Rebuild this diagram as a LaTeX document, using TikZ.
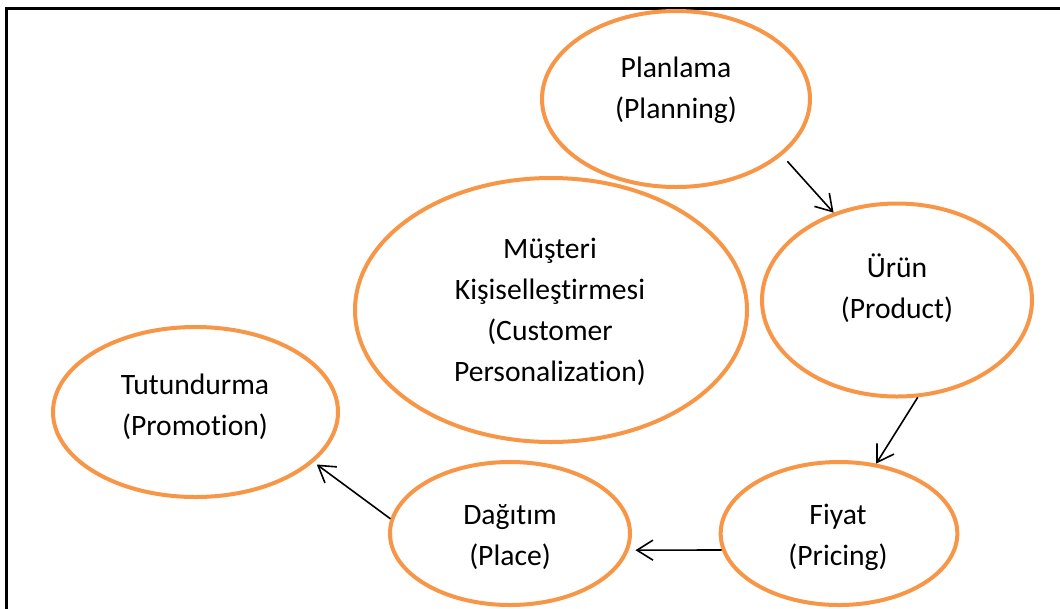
\documentclass[tikz,border=0pt]{standalone}
\usepackage{fontspec}
\setmainfont[Ligatures={NoCommon,NoContextual}]{Carlito}
\usetikzlibrary{shapes.geometric,arrows.meta}
\definecolor{accent}{HTML}{F79646}
\begin{document}
\begin{tikzpicture}[x=0.75pt,y=-0.75pt,
  blob/.style={ellipse,draw=accent,line width=3pt,fill=white,inner sep=0pt},
  caption/.style={align=center,inner sep=0pt,font=\fontsize{22.2}{30.75}\selectfont},
  link/.style={draw=black,line width=1.2pt,-{Straight Barb[length=12pt,width=15pt]}}]
\useasboundingbox (0,0) rectangle (1060,608);
\clip (0,0) rectangle (1060,608);
% page frame
\draw[line width=2.25pt] (1075,8) -- (6,8) -- (6,625);

% ellipses
\node[blob,minimum width=201pt,minimum height=132pt] (plan) at (676,99) {};
\node[blob,minimum width=294pt,minimum height=198pt] (cust) at (551,310) {};
\node[blob,minimum width=202.5pt,minimum height=144.75pt] (prod) at (897,300) {};
\node[blob,minimum width=213.75pt,minimum height=127.5pt] (tut) at (195.5,412) {};
\node[blob,minimum width=180pt,minimum height=107.25pt] (dag) at (510,533.5) {};
\node[blob,minimum width=177.5pt,minimum height=107.25pt] (fiyat) at (839,533.5) {};

% captions
\node[caption] (planT) at (676,90.5) {Planlama\\(Planning)};
\node[caption] (custT) at (550,312) {Müşteri\\Kişiselleştirmesi\\(Customer\\Personalization)};
\node[caption] (prodT) at (897,288) {Ürün\\(Product)};
\node[caption] (tutT) at (195,407) {Tutundurma\\(Promotion)};
\node[caption] (dagT) at (510,537.5) {Dağıtım\\(Place)};
\node[caption] (fiyatT) at (838,537.5) {Fiyat\\(Pricing)};

% connectors
\draw[link,shorten <=6pt] (plan.-28) -- (prod.126);
\draw[link] (prod.-78) -- (fiyat.62);
\draw[link,shorten >=5pt] (fiyat.188) -- (dag.-8);
\draw[link,shorten >=3pt] (dag.173) -- (tut.-23);
\end{tikzpicture}
\end{document}
